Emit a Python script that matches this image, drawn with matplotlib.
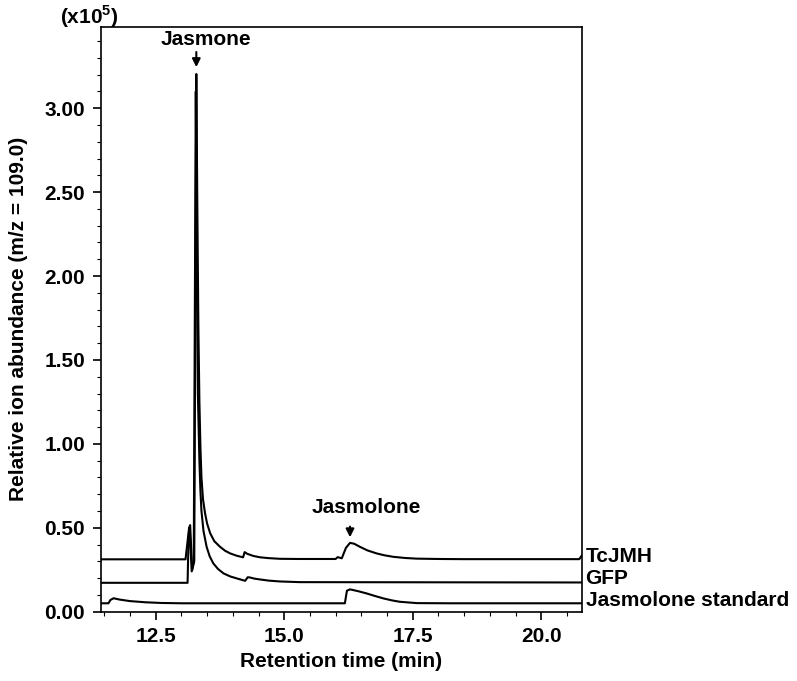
"""
GC-MS chromatogram (m/z 109.0): TcJMH vs GFP vs jasmolone standard
"""

import matplotlib
matplotlib.use("Agg")
import matplotlib.pyplot as plt
from matplotlib.ticker import MultipleLocator, FormatStrFormatter

# Data (retention time in min, abundance in x10^5)
TCJMH_T = [11.43, 13.08, 13.15, 13.17, 13.21, 13.25, 13.29, 13.31, 13.33, 13.35,
           13.37, 13.39, 13.42, 13.46, 13.50, 13.56, 13.64, 13.75, 13.85, 13.95,
           14.08, 14.20, 14.23, 14.28, 14.40, 14.53, 14.70, 14.92, 15.30, 16.00,
           16.04, 16.12, 16.20, 16.28, 16.36, 16.47, 16.62, 16.80, 16.95, 17.12,
           17.35, 17.58, 18.00, 18.50, 20.74, 20.79]
TCJMH_Y = [0.312, 0.312, 0.50, 0.516, 0.248, 0.30, 3.204, 2.40, 1.70, 1.25,
           0.98, 0.80, 0.67, 0.586, 0.525, 0.467, 0.42, 0.387, 0.363, 0.347,
           0.333, 0.324, 0.355, 0.345, 0.332, 0.324, 0.319, 0.315, 0.314, 0.314,
           0.325, 0.318, 0.38, 0.41, 0.405, 0.387, 0.365, 0.347, 0.336, 0.327,
           0.320, 0.316, 0.314, 0.313, 0.313, 0.335]

GFP_T = [11.43, 13.12, 13.14, 13.16, 13.20, 13.24, 13.28, 13.30, 13.32, 13.35,
         13.37, 13.39, 13.43, 13.49, 13.55, 13.62, 13.71, 13.82, 13.95, 14.08,
         14.24, 14.29, 14.33, 14.42, 14.53, 14.70, 14.92, 15.30, 20.79]
GFP_Y = [0.172, 0.172, 0.45, 0.50, 0.24, 0.30, 3.10, 2.00, 1.30, 0.90,
         0.72, 0.60, 0.48, 0.387, 0.33, 0.288, 0.255, 0.228, 0.21, 0.198,
         0.184, 0.205, 0.204, 0.197, 0.192, 0.185, 0.180, 0.176, 0.174]

STD_T = [11.43, 11.58, 11.62, 11.68, 11.80, 12.00, 12.30, 12.60, 13.00, 16.18,
         16.22, 16.28, 16.44, 16.60, 16.76, 16.93, 17.10, 17.25, 17.58, 18.20,
         20.79]
STD_Y = [0.05, 0.05, 0.07, 0.08, 0.072, 0.063, 0.056, 0.052, 0.05, 0.05,
         0.125, 0.133, 0.122, 0.109, 0.094, 0.079, 0.067, 0.059, 0.051, 0.05,
         0.05]

TRACE_LABELS = ["TcJMH", "GFP", "Jasmolone standard"]
TRACE_LABEL_Y = [0.331, 0.200, 0.069]

X_TICKS = [12.5, 15.0, 17.5, 20.0]
Y_TICKS = [0.0, 0.5, 1.0, 1.5, 2.0, 2.5, 3.0]

# Peak annotations: (name, arrow x, arrow tip y, arrow tail y, text x, text y)
PEAKS = [
    ("Jasmone", 13.29, 3.245, 3.335, 13.47, 3.41),
    ("Jasmolone", 16.28, 0.443, 0.507, 16.59, 0.62),
]

plt.rcParams['font.family'] = ['Liberation Sans', 'DejaVu Sans']
plt.rcParams['font.weight'] = 'bold'
plt.rcParams['mathtext.fontset'] = 'custom'
plt.rcParams['mathtext.rm'] = 'Liberation Sans:bold'
plt.rcParams['mathtext.bf'] = 'Liberation Sans:bold'

FS = 15

fig = plt.figure(figsize=(7.97, 6.81), dpi=100)
ax = fig.add_axes([0.1261, 0.1018, 0.6038, 0.859])

for t, y in [(TCJMH_T, TCJMH_Y), (GFP_T, GFP_Y), (STD_T, STD_Y)]:
    ax.plot(t, y, color='black', lw=1.5)

ax.set_xlim(11.426, 20.788)
ax.set_ylim(0, 3.486)

ax.set_xticks(X_TICKS)
ax.set_yticks(Y_TICKS)
ax.xaxis.set_major_formatter(FormatStrFormatter('%.1f'))
ax.yaxis.set_major_formatter(FormatStrFormatter('%.2f'))
ax.xaxis.set_minor_locator(MultipleLocator(0.5))
ax.yaxis.set_minor_locator(MultipleLocator(0.1))
ax.tick_params(which='major', direction='out', length=6, width=1.2,
               labelsize=FS, pad=5)
ax.tick_params(which='minor', direction='out', length=3, width=0.8)
for lab in ax.get_xticklabels() + ax.get_yticklabels():
    lab.set_fontweight('bold')

for sp in ax.spines.values():
    sp.set_linewidth(1.2)

ax.set_xlabel("Retention time (min)", fontsize=FS, fontweight='bold', labelpad=4)
ax.set_ylabel("Relative ion abundance (m/z = 109.0)", fontsize=FS,
              fontweight='bold', labelpad=12)

# trace names on the right of the axes
for name, yv in zip(TRACE_LABELS, TRACE_LABEL_Y):
    ax.text(1.008, yv, name, transform=ax.get_yaxis_transform(),
            fontsize=FS, fontweight='bold', va='center', ha='left')

# peak labels with arrows
for name, xa, ytip, ytail, xt, yt in PEAKS:
    ax.annotate("", xy=(xa, ytip), xytext=(xa, ytail),
                arrowprops=dict(arrowstyle='-|>', color='black', lw=1.5,
                                mutation_scale=12, shrinkA=0, shrinkB=0))
    ax.text(xt, yt, name, fontsize=FS, fontweight='bold',
            ha='center', va='center')

fig.text(89 / 797, 1 - 17 / 681, r"(x10$^{5}$)", fontsize=FS,
         fontweight='bold', ha='center', va='center')

fig.savefig("out.png", dpi=100)
